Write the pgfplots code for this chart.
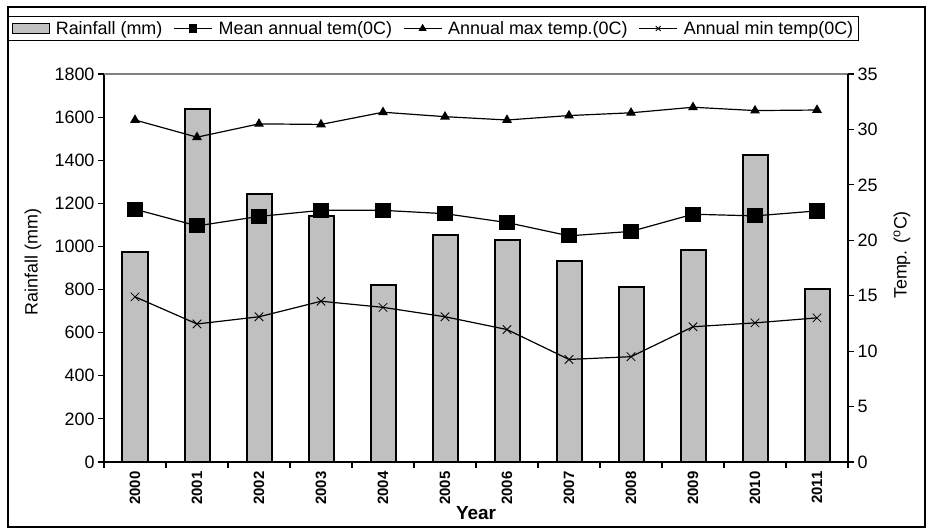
\documentclass[border=0pt]{standalone}
\usepackage{pgfplots}
\usepackage{pgfplotstable}
\pgfplotsset{compat=1.18}
\usepackage{fontspec}
\setmainfont{Liberation Sans}
\definecolor{barfill}{RGB}{192,192,192}
\pgfplotsset{longline legend/.style={legend image code/.code={\draw[mark repeat=2,mark phase=2,##1] plot coordinates {(0bp,0bp) (19bp,0bp) (38bp,0bp)};}}}

\pgfplotstableread{
x rain mean tmax tmin
0 975 22.8 30.85 14.9
1 1637 21.3 29.3 12.45
2 1242 22.15 30.5 13.1
3 1141 22.7 30.45 14.5
4 821 22.7 31.55 13.95
5 1055 22.4 31.15 13.1
6 1028 21.6 30.85 11.95
7 932 20.4 31.25 9.25
8 813 20.8 31.5 9.5
9 985 22.35 32.0 12.2
10 1424 22.2 31.7 12.55
11 804 22.65 31.75 13.0
}\datatable

\begin{document}
\begin{tikzpicture}[x=1bp,y=1bp]
\useasboundingbox (-104,-67) rectangle (825,462);
\draw[line width=1.2bp] (-96,-65) rectangle (821,455);
\begin{axis}[
  at={(0,0)}, anchor=south west,
  scale only axis, width=744bp, height=388bp,
  xmin=-0.5, xmax=11.5, ymin=0, ymax=1800,
  ybar, bar width=25bp,
  axis x line*=bottom, axis y line*=left,
  axis line style={line width=1.2bp},
  ytick={0,200,...,1800},
  xtick={-0.5,0.5,...,11.5},
  x tick label as interval,
  xticklabels={2000,2001,2002,2003,2004,2005,2006,2007,2008,2009,2010,2011},
  tick align=outside, major tick length=6bp,
  tick style={line width=1.2bp, black},
  /pgf/number format/assume math mode=true,
  /pgf/number format/1000 sep={},
  yticklabel style={font=\fontsize{18}{18}\selectfont},
  xticklabel style={rotate=90, anchor=east, font=\fontsize{15}{15}\selectfont\bfseries},
  ylabel={Rainfall (mm)},
  ylabel style={at={(axis description cs:-0.0954,0.515)}, anchor=center, font=\fontsize{18}{18}\selectfont},
  xlabel={Year},
  xlabel style={at={(axis description cs:0.5,-0.1314)}, anchor=center, font=\fontsize{19}{19}\selectfont\bfseries},
]
\addplot[fill=barfill, draw=black, line width=2bp] table[x=x,y=rain]{\datatable};
\end{axis}
\begin{axis}[
  at={(0,0)}, anchor=south west,
  scale only axis, width=744bp, height=388bp,
  xmin=-0.5, xmax=11.5, ymin=0, ymax=35,
  axis x line*=top, axis y line*=right,
  axis line style={line width=1.2bp},
  x axis line style={draw=gray},
  xtick=\empty,
  ytick={0,5,...,35},
  tick align=outside, major tick length=6bp,
  tick style={line width=1.2bp, black},
  /pgf/number format/assume math mode=true,
  yticklabel style={font=\fontsize{18}{18}\selectfont},
  ylabel={Temp. (\textsuperscript{o}C)},
  ylabel style={at={(axis description cs:1.0726,0.5335)}, anchor=center, font=\fontsize{18}{18}\selectfont},
  legend columns=4,
  legend style={at={(axis description cs:-0.129,1.1173)}, anchor=west, draw=black, line width=1.2bp,
    font=\fontsize{18}{18}\selectfont, inner sep=3bp,
    /tikz/every even column/.append style={column sep=9bp},
    /tikz/every odd column/.append style={column sep=4bp}},
  legend image post style={mark size=3.5bp},
]
\addlegendimage{legend image code/.code={\draw[fill=barfill, draw=black, line width=1.2bp] (0bp,-5bp) rectangle (37bp,5bp);}}
\addlegendentry{Rainfall (mm)}
\addplot[black, line width=1.2bp, mark=square*, mark size=7bp, longline legend]
  table[x=x,y=mean]{\datatable};
\addlegendentry{Mean annual tem(0C)}
\addplot[black, line width=1.2bp, mark=triangle*, mark size=4.5bp, longline legend]
  table[x=x,y=tmax]{\datatable};
\addlegendentry{Annual max temp.(0C)}
\addplot[black, line width=1.2bp, mark=x, mark size=6bp, mark options={line width=0.8bp}, longline legend]
  table[x=x,y=tmin]{\datatable};
\addlegendentry{Annual min temp(0C)}
\end{axis}
\end{tikzpicture}
\end{document}
